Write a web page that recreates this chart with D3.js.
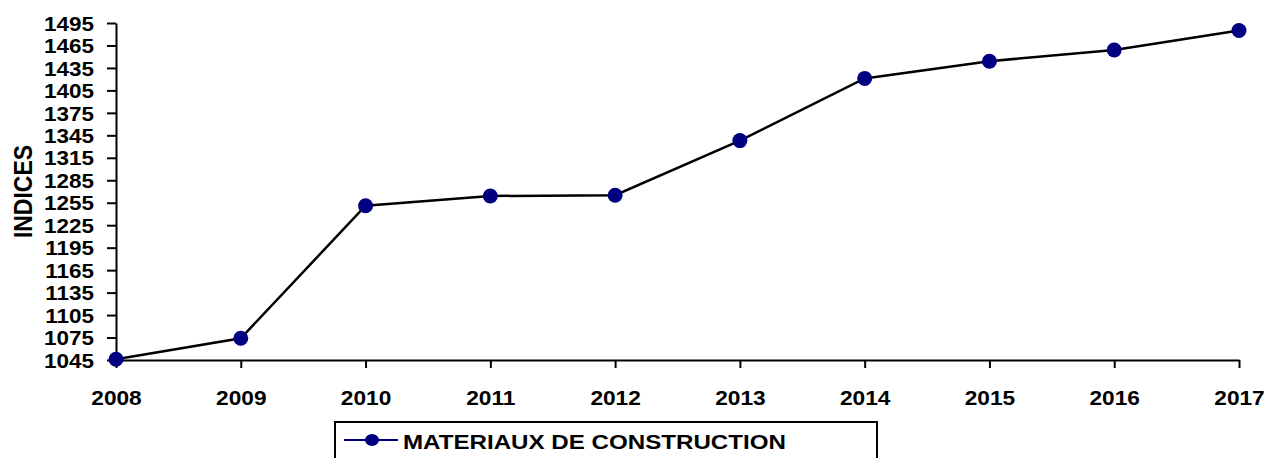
<!DOCTYPE html>
<html>
<head>
<meta charset="utf-8">
<script src="https://cdn.jsdelivr.net/npm/d3@7"></script>
<style>
  body { margin: 0; background: #fff; }
  svg { display: block; }
  text { font-family: "Liberation Sans", Arial, sans-serif; font-weight: bold; fill: #000; }
</style>
</head>
<body>
<svg width="1267" height="458"></svg>
<script>
var years = [2008, 2009, 2010, 2011, 2012, 2013, 2014, 2015, 2016, 2017];
var indices = [1046, 1074, 1251, 1264, 1265, 1338, 1421, 1444, 1459, 1485];
var yTicks = [1045, 1075, 1105, 1135, 1165, 1195, 1225, 1255, 1285, 1315, 1345, 1375, 1405, 1435, 1465, 1495];
var seriesName = "MATERIAUX DE CONSTRUCTION";
var axisTitle = "INDICES";

var svg = d3.select("svg"),
    margin = {top: 23, right: 28, bottom: 98, left: 116},
    width = svg.attr("width") - margin.left - margin.right,
    height = svg.attr("height") - margin.top - margin.bottom;

var x = d3.scalePoint().domain(years).range([0, width]),
    y = d3.scaleLinear().domain([1045, 1495]).range([height, 0]);

var g = svg.append("g")
    .attr("transform", "translate(" + margin.left + "," + margin.top + ")");

// x axis
var gx = g.append("g")
    .attr("transform", "translate(0," + height + ")")
    .call(d3.axisBottom(x).tickSize(8).tickSizeOuter(0));
gx.select(".domain").attr("stroke", "#000").attr("stroke-width", 2);
gx.selectAll(".tick line").attr("stroke", "#000").attr("stroke-width", 2);
gx.selectAll(".tick text")
    .attr("y", 45).attr("dy", 0)
    .style("font-size", "21px")
    .attr("transform", "scale(1.08,1)");

// y axis
var gy = g.append("g")
    .call(d3.axisLeft(y).tickValues(yTicks).tickFormat(d3.format("d")).tickSize(9).tickSizeOuter(0));
gy.select(".domain").attr("stroke", "#000").attr("stroke-width", 2);
gy.selectAll(".tick line").attr("stroke", "#000").attr("stroke-width", 2);
gy.selectAll(".tick text")
    .attr("x", 0).attr("dy", "0.34em")
    .style("font-size", "21px")
    .attr("transform", "translate(-22,0) scale(1.07,1)");

svg.append("text")
    .attr("text-anchor", "middle")
    .attr("transform", "translate(31.5,191.5) rotate(-90) scale(1,1.15)")
    .style("font-size", "23px")
    .text(axisTitle);

// line + markers
var line = d3.line()
    .x(function(d, i) { return x(years[i]); })
    .y(function(d) { return y(d); });

g.append("path")
    .datum(indices)
    .attr("fill", "none")
    .attr("stroke", "#000")
    .attr("stroke-width", 2.5)
    .attr("d", line);

g.selectAll(".dot")
    .data(indices)
  .enter().append("circle")
    .attr("class", "dot")
    .attr("cx", function(d, i) { return x(years[i]); })
    .attr("cy", function(d) { return y(d); })
    .attr("r", 7.5)
    .attr("fill", "#000080");

// legend
var leg = svg.append("g").attr("transform", "translate(335,422)");
leg.append("rect")
    .attr("width", 542).attr("height", 60)
    .attr("fill", "#fff").attr("stroke", "#000").attr("stroke-width", 2);
leg.append("line")
    .attr("x1", 9).attr("x2", 63).attr("y1", 18).attr("y2", 18)
    .attr("stroke", "#000080").attr("stroke-width", 2);
leg.append("ellipse")
    .attr("cx", 37).attr("cy", 18).attr("rx", 7).attr("ry", 6)
    .attr("fill", "#000080");
leg.append("text")
    .attr("transform", "translate(68,26.5) scale(1.15,1)")
    .style("font-size", "21px")
    .text(seriesName);
</script>
</body>
</html>
